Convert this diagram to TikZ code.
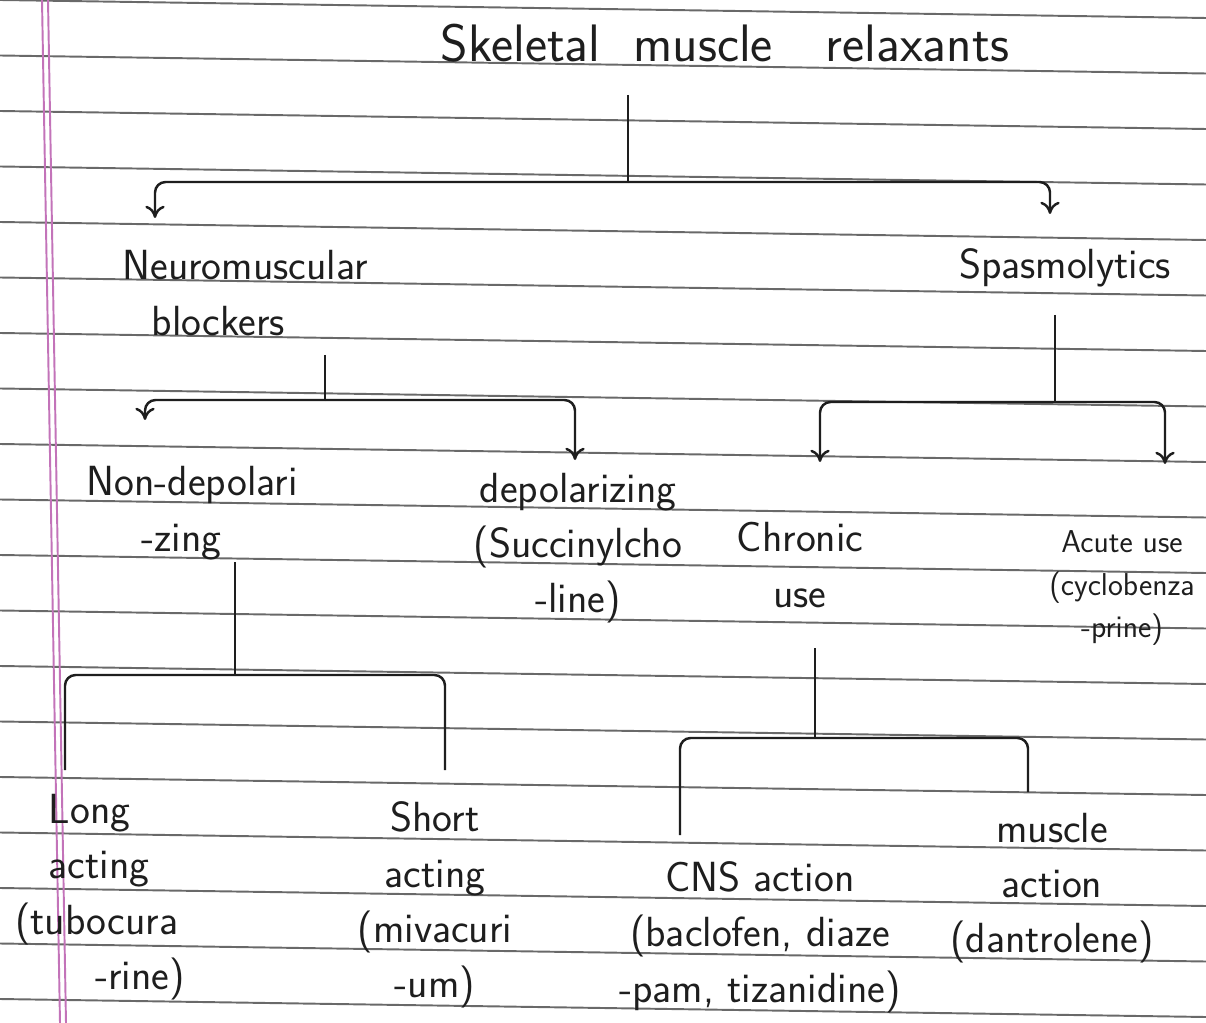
\documentclass[tikz,border=0pt]{standalone}
\usepackage{color}
\usetikzlibrary{arrows.meta}
\definecolor{ink}{RGB}{30,30,30}
\definecolor{ruling}{RGB}{105,105,105}
\definecolor{marginline}{RGB}{195,115,185}

\begin{document}
\begin{tikzpicture}[x=0.02cm,y=-0.02cm,
	txt/.style={font=\sffamily\fontsize{24}{31.5}\selectfont,text=ink,align=center,inner sep=0pt},
	link/.style={draw=ink,line width=1.4pt,rounded corners=6pt},
	arr/.style={link,-{To[length=7pt,width=11pt]}}]
	\useasboundingbox (0,0) rectangle (1206,1023);
	% the notebook page
	\fill[white] (0,0) rectangle (1206,1023);
	\foreach \k in {0,...,18}
		\draw[ruling,line width=1.1pt] (0,{55.5*\k}) -- (1206,{55.5*\k+18});
	\draw[marginline,line width=1.1pt] (42,0) -- (60,1023);
	\draw[marginline,line width=1.1pt] (48,0) -- (66,1023);

	% top
	\node[txt,font=\sffamily\fontsize{30}{34}\selectfont] (smr) at (725,43) {Skeletal\ \ muscle\quad relaxants};
	\coordinate (t0) at (628,95);
	\coordinate (tj) at (628,182);
	\coordinate (ta) at (155,218);
	\coordinate (tb) at (1050,214);
	\draw[link] (t0) -- (tj);
	\draw[arr] (tj) -| (ta);
	\draw[arr] (tj) -| (tb);

	% second row
	\node[txt,align=left] (nmb) at (245,293) {Neuromuscular\\\hspace*{0.7em}blockers};
	\node[txt] (spas) at (1065,268) {Spasmolytics};

	\coordinate (n0) at (325,355);
	\coordinate (nj) at (325,400);
	\coordinate (na) at (145,420);
	\coordinate (nb) at (575,460);
	\draw[link] (n0) -- (nj);
	\draw[arr] (nj) -| (na);
	\draw[arr] (nj) -| (nb);

	\coordinate (s0) at (1055,315);
	\coordinate (sj) at (1055,402);
	\coordinate (sa) at (820,462);
	\coordinate (sb) at (1165,464);
	\draw[link] (s0) -- (sj);
	\draw[arr] (sj) -| (sa);
	\draw[arr] (sj) -| (sb);

	% third row
	\node[txt,align=left] (nondep) at (192,513) {Non-depolari\\\hspace*{1.3em}-zing};
	\node[txt] (dep) at (578,548) {depolarizing\\(Succinylcho\\-line)};
	\node[txt] (chron) at (800,565) {Chronic\\use};
	\node[txt,font=\sffamily\fontsize{18}{24}\selectfont] (acute) at (1122,588) {Acute use\\(cyclobenza\\-prine)};

	\coordinate (d0) at (235,562);
	\coordinate (dj) at (235,675);
	\coordinate (da) at (65,770);
	\coordinate (db) at (445,770);
	\draw[link] (d0) -- (dj);
	\draw[link] (dj) -| (da);
	\draw[link] (dj) -| (db);

	\coordinate (c0) at (815,648);
	\coordinate (cj) at (815,738);
	\coordinate (ca) at (680,835);
	\coordinate (cb) at (1028,792);
	\draw[link] (c0) -- (cj);
	\draw[link] (cj) -| (ca);
	\draw[link] (cj) -| (cb);

	% bottom row
	\node[txt,align=left] (long) at (100,897) {\hspace*{0.8em}Long\\\hspace*{0.8em}acting\\(tubocura\\\hspace*{1.9em}-rine)};
	\node[txt] (short) at (435,905) {Short\\acting\\(mivacuri\\-um)};
	\node[txt] (cns) at (760,937) {CNS action\\(baclofen, diaze\\-pam, tizanidine)};
	\node[txt] (musc) at (1052,888) {muscle\\action\\(dantrolene)};
\end{tikzpicture}
\end{document}
